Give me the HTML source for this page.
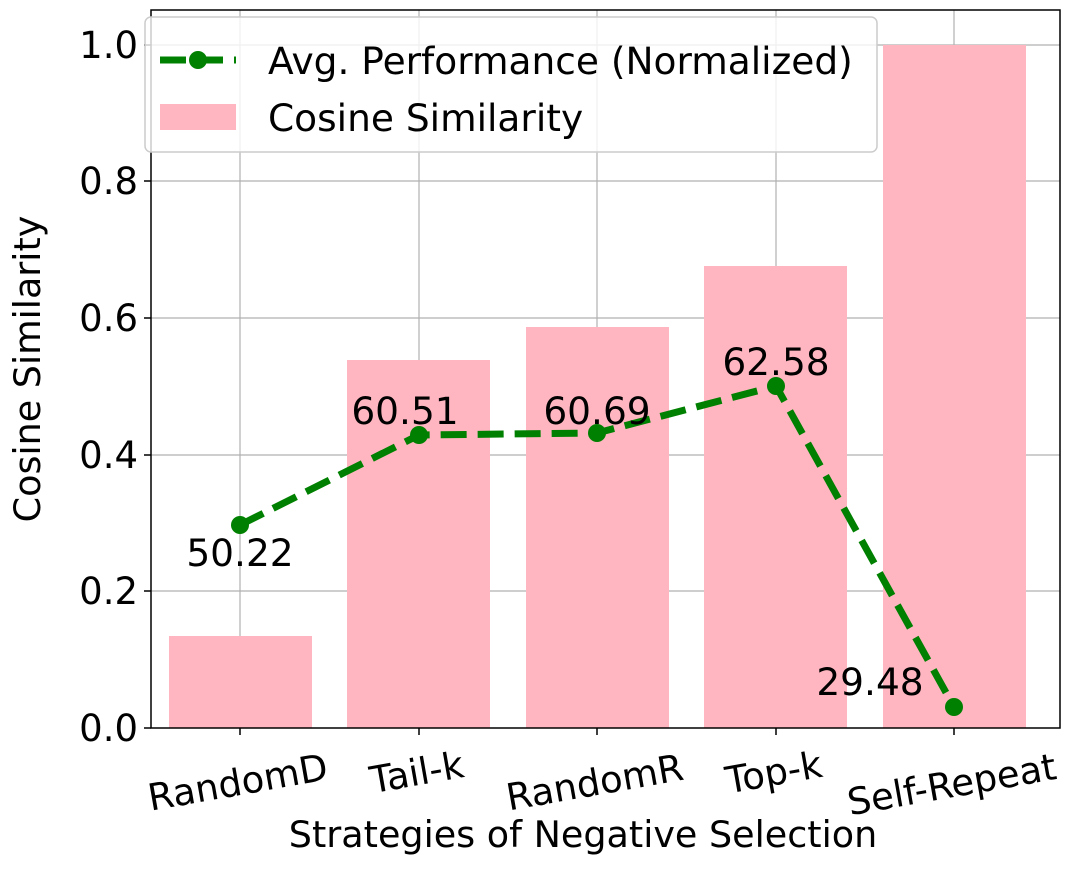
<!DOCTYPE html>
<html><head><style>body{margin:0;background:#fff}</style></head><body>
<svg width="1080" height="867" xmlns="http://www.w3.org/2000/svg" font-family="DejaVu Sans, Liberation Sans, sans-serif">
<rect width="1080" height="867" fill="#fff"/>
<g stroke="#b0b0b0" stroke-width="1.2">
<line x1="240" y1="10" x2="240" y2="728"/><line x1="419" y1="10" x2="419" y2="728"/><line x1="597" y1="10" x2="597" y2="728"/><line x1="776" y1="10" x2="776" y2="728"/><line x1="954" y1="10" x2="954" y2="728"/>
<line x1="151" y1="591" x2="1060" y2="591"/><line x1="151" y1="455" x2="1060" y2="455"/><line x1="151" y1="318" x2="1060" y2="318"/><line x1="151" y1="181" x2="1060" y2="181"/><line x1="151" y1="45" x2="1060" y2="45"/>
</g>
<g fill="#ffb6c1">
<rect x="169" y="636" width="143" height="92"/><rect x="347" y="360" width="143" height="368"/><rect x="526" y="327" width="143" height="401"/><rect x="704" y="266" width="143" height="462"/><rect x="883" y="45" width="143" height="683"/>
</g>
<polyline points="240,525 419,435 597,433 776,386 954,707" fill="none" stroke="#008000" stroke-width="7" stroke-dasharray="26,11"/>
<g fill="#008000"><circle cx="240" cy="525" r="9"/><circle cx="419" cy="435" r="9"/><circle cx="597" cy="433" r="9"/><circle cx="776" cy="386" r="9"/><circle cx="954" cy="707" r="9"/></g>
<g font-size="37.5" fill="#000" text-anchor="middle">
<text x="240" y="566">50.22</text><text x="405" y="424">60.51</text><text x="597" y="424">60.69</text><text x="776" y="375">62.58</text><text x="870" y="695">29.48</text>
</g>
<rect x="151" y="10" width="909" height="718" fill="none" stroke="#000" stroke-width="1.5"/>
<g stroke="#000" stroke-width="1.5"><line x1="144" y1="728" x2="151" y2="728"/><line x1="144" y1="591" x2="151" y2="591"/><line x1="144" y1="455" x2="151" y2="455"/><line x1="144" y1="318" x2="151" y2="318"/><line x1="144" y1="181" x2="151" y2="181"/><line x1="144" y1="45" x2="151" y2="45"/>
<line x1="240" y1="728" x2="240" y2="735"/><line x1="419" y1="728" x2="419" y2="735"/><line x1="597" y1="728" x2="597" y2="735"/><line x1="776" y1="728" x2="776" y2="735"/><line x1="954" y1="728" x2="954" y2="735"/></g>
<g font-size="37" text-anchor="end">
<text x="138" y="741">0.0</text><text x="138" y="604">0.2</text><text x="138" y="468">0.4</text><text x="138" y="331">0.6</text><text x="138" y="194">0.8</text><text x="138" y="58">1.0</text>
</g>
<g font-size="37" text-anchor="middle">
<text transform="translate(240,795) rotate(-10)">RandomD</text>
<text transform="translate(419,785) rotate(-10)">Tail-k</text>
<text transform="translate(597,795) rotate(-10)">RandomR</text>
<text transform="translate(776,785) rotate(-10)">Top-k</text>
<text transform="translate(954,797) rotate(-10)">Self-Repeat</text>
</g>
<text x="583" y="847" font-size="36.5" text-anchor="middle">Strategies of Negative Selection</text>
<text transform="translate(40,369) rotate(-90)" font-size="36.5" text-anchor="middle">Cosine Similarity</text>
<rect x="145" y="17" width="732" height="135" rx="6" fill="#fff" fill-opacity="0.8" stroke="#ccc" stroke-width="1.5"/>
<line x1="160" y1="60" x2="236" y2="60" stroke="#008000" stroke-width="7" stroke-dasharray="26,11"/>
<circle cx="198" cy="60" r="9" fill="#008000"/>
<rect x="160" y="104" width="76" height="26" fill="#ffb6c1"/>
<text x="268" y="74" font-size="37.5">Avg. Performance (Normalized)</text>
<text x="268" y="131" font-size="37.5">Cosine Similarity</text>
</svg>
</body></html>
